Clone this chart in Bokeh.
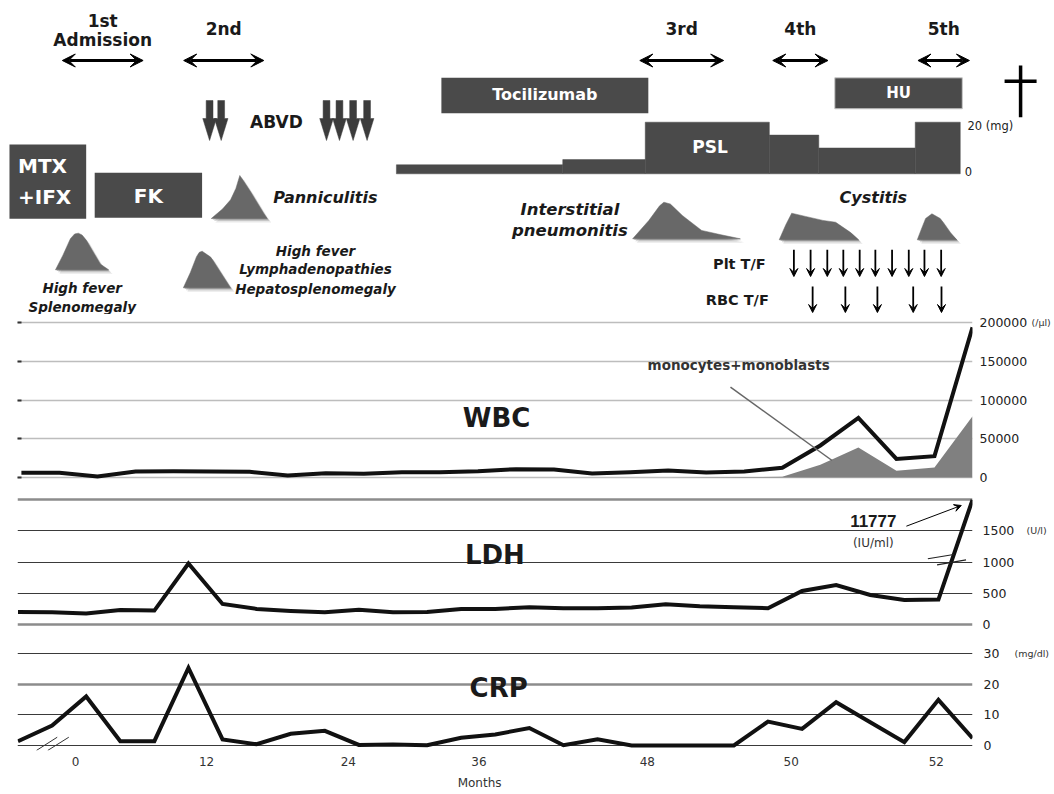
import numpy as np
from bokeh.plotting import figure
from bokeh.layouts import column
from bokeh.models import (Range1d, LinearAxis, FixedTicker, Grid, Arrow, VeeHead,
                          Label, NumeralTickFormatter, ColumnDataSource)
from bokeh.core.properties import value
from bokeh.embed import file_html
from bokeh.resources import INLINE

# ---------------- data ----------------
# WBC and monocytes+monoblasts (/ul), 26 samples
wbc = [6000, 6000, 1300, 7800, 8200, 7800, 7300, 2600, 5600, 4900,
       6900, 6900, 8200, 10800, 10300, 5200, 6900, 9000, 6500, 7800,
       12500, 41400, 77000, 24000, 27600, 194000]
mono = [0, 0, 0, 0, 0, 0, 0, 0, 0, 0,
        0, 0, 0, 0, 0, 0, 0, 0, 300, 500,
        1000, 16400, 38800, 8600, 12900, 79300]
# LDH (U/l) and CRP (mg/dl), 29 visits
ldh = [202, 197, 176, 234, 223, 979, 330, 250, 218, 197,
       235, 197, 202, 250, 250, 277, 261, 261, 271, 324,
       293, 277, 261, 537, 633, 473, 394, 399, 11777]
crp = [1.4, 6.5, 16.0, 1.4, 1.4, 25.3, 2.0, 0.4, 3.8, 4.8,
       0.2, 0.3, 0.1, 2.5, 3.6, 5.7, 0.1, 2.0, 0.0, 0.0,
       0.0, 0.0, 7.8, 5.4, 14.1, 7.6, 1.1, 14.9, 2.4]
LDH_BREAK = 2000          # LDH axis is broken above this value

month_labels = ["0", "12", "24", "36", "48", "50", "52"]
month_visit = [1.69, 5.53, 9.69, 13.52, 18.46, 22.68, 26.94]

wbc_ticks = [0, 50000, 100000, 150000, 200000]
ldh_ticks = [0, 500, 1000, 1500]
crp_ticks = [0, 10, 20, 30]

# clinical timeline (visit units)
stay_names = ["1st", "2nd", "3rd", "4th", "5th"]
stay_start = [1.30, 4.86, 18.24, 22.14, 26.40]
stay_end = [3.67, 7.21, 20.70, 23.76, 27.91]

drug_names = ["MTX+IFX", "FK", "Tocilizumab", "HU"]
drug_start = [-0.25, 2.25, 12.42, 23.96]
drug_end = [2.00, 5.40, 18.49, 27.70]

psl_start = [11.10, 15.98, 18.40, 22.04, 23.49, 26.32]
psl_end = [15.98, 18.40, 22.04, 23.49, 26.32, 27.64]
psl_dose = [3.5, 5.5, 20, 15, 10, 20]      # mg

abvd_cycles = [5.62, 5.96, 9.05, 9.43, 9.83, 10.24]
plt_tf = [22.76, 23.25, 23.74, 24.21, 24.69, 25.15, 25.64, 26.13, 26.59, 27.08]
rbc_tf = [23.31, 24.27, 25.21, 26.26, 27.09]
death_visit = 29.41

episode_names = ["fever1", "panniculitis", "fever2", "ip", "cystitis1", "cystitis2"]
episode_start = [1.10, 5.67, 4.85, 18.03, 22.33, 26.38]
episode_end = [2.66, 7.31, 6.23, 21.19, 24.66, 27.54]

# ---------------- layout / style ----------------
X0, PXU = 17.5, 34.09      # page x of visit 0, pixels per visit
W = 1054
BL, BR = 17, 82            # frame borders of the lab panels (px)
FONT = "DejaVu Sans"
INK = "#1a1a1a"
BOX = "#4a4a4a"
HUMP = "#686868"
TOP_H = 314


def px(d):
    return d / PXU


def ttext(p, x, y, s, size, style="bold", align="center", color=INK, font=FONT, **kw):
    p.text(x=[x], y=[y], text=[s], text_font=value(font), text_font_size=f"{size}px",
           text_font_style=style, text_align=align, text_baseline="middle",
           text_color=color, **kw)


def lab(p, x, y, s, size, style="bold", align="center", color=INK, font=FONT, **kw):
    p.add_layout(Label(x=x, y=y, text=s, text_font=font, text_font_size=f"{size}px",
                       text_font_style=style, text_align=align, text_baseline="middle",
                       text_color=color, **kw))


# ================= top timeline (full-width frame) =================
top = figure(width=W, height=TOP_H, x_range=Range1d(-X0 / PXU, (W - X0) / PXU),
             y_range=Range1d(TOP_H, 0),
             extra_y_ranges={"psl": Range1d(-(TOP_H - 173.3) / 2.58, 173.3 / 2.58)},
             toolbar_location=None, output_backend="svg", min_border=0,
             x_axis_location=None, y_axis_location=None, outline_line_color=None)
top.grid.visible = False

# admissions
src = ColumnDataSource(dict(x0=stay_start, x1=stay_end, y=[60] * len(stay_start)))
top.add_layout(Arrow(start=VeeHead(size=13, fill_color="black", line_color="black"),
                     end=VeeHead(size=13, fill_color="black", line_color="black"),
                     x_start="x0", y_start="y", x_end="x1", y_end="y", source=src,
                     line_width=3, line_color="black"))
for n, s, e in zip(stay_names, stay_start, stay_end):
    mid = (s + e) / 2
    if n == "1st":
        ttext(top, mid, 20.7, "1st", 17)
        ttext(top, mid, 39.3, "Admission", 17)
    else:
        ttext(top, mid, 28.3, n, 17)

# drugs
drug_rows = {"MTX+IFX": (144, 218.3), "FK": (172.3, 217.3),
             "Tocilizumab": (77.3, 112.7), "HU": (77.3, 108.3)}
for n, s, e in zip(drug_names, drug_start, drug_end):
    t, b = drug_rows[n]
    mid = (s + e) / 2
    top.quad(left=[s], right=[e], top=[t], bottom=[b], fill_color=BOX,
             line_color="#c8c8c8" if n == "HU" else None, line_width=1)
    if n == "MTX+IFX":
        ttext(top, s + px(8.5), 165, "MTX", 20, align="left", color="white")
        ttext(top, s + px(8.5), 196.7, "+IFX", 20, align="left", color="white")
    elif n == "FK":
        ttext(top, mid, 195, "FK", 20, color="white")
    elif n == "Tocilizumab":
        ttext(top, mid, 94.3, "Tocilizumab", 16, color="white")
    else:
        ttext(top, mid, 92.3, "HU", 15, color="white")

# PSL dose steps with their own mg scale
top.quad(left=psl_start, right=psl_end, bottom=0, top=psl_dose, y_range_name="psl",
         fill_color=BOX, line_color=BOX, line_width=0.5)
ttext(top, 20.30, 146.7, "PSL", 17, color="white")
ttext(top, 27.85, 20, "20 (mg)", 11.5, style="normal", align="left", color="#222",
      y_range_name="psl", y_offset=4)
ttext(top, 27.77, 0, "0", 11.5, style="normal", align="left", color="#222",
      y_range_name="psl", y_offset=-2)

# ABVD block arrows
sh, hd = px(3.4), px(6.8)
xs = [[c - sh, c + sh, c + sh, c + hd, c, c - hd, c - sh] for c in abvd_cycles]
ys = [[100, 100, 118, 118, 140, 118, 118] for _ in abvd_cycles]
top.patches(xs, ys, fill_color="#3c3c3c", line_color="#3c3c3c", line_width=0.5)
ttext(top, 7.58, 121.7, "ABVD", 17)

# clinical episodes (humps)
profiles = {
    "fever1": ([0, 0.14, 0.28, 0.36, 0.43, 0.50, 0.58, 0.70, 0.84, 1],
               [0, 0.40, 0.85, 0.98, 1.0, 0.95, 0.80, 0.50, 0.16, 0]),
    "panniculitis": ([0, 0.20, 0.345, 0.44, 0.51, 0.70, 0.94, 1],
                     [0, 0.22, 0.435, 0.70, 1.0, 0.62, 0.11, 0]),
    "fever2": ([0, 0.15, 0.28, 0.34, 0.40, 0.58, 0.80, 1],
               [0, 0.42, 0.85, 0.97, 1.0, 0.84, 0.40, 0]),
    "ip": ([0, 0.15, 0.25, 0.29, 0.35, 0.46, 0.64, 0.82, 1],
           [0, 0.50, 0.90, 1.0, 0.95, 0.64, 0.23, 0.11, 0]),
    "cystitis1": ([0, 0.08, 0.157, 0.33, 0.55, 0.71, 0.90, 1],
                  [0, 0.55, 1.0, 0.88, 0.73, 0.66, 0.27, 0]),
    "cystitis2": ([0, 0.10, 0.21, 0.37, 0.58, 0.83, 1],
                  [0, 0.40, 0.82, 1.0, 0.82, 0.28, 0]),
}
hump_base = {"fever1": 269.3, "panniculitis": 218, "fever2": 287.3,
             "ip": 238.3, "cystitis1": 239.3, "cystitis2": 239.3}
hump_h = {"fever1": 36.6, "panniculitis": 43, "fever2": 36.6,
          "ip": 36.6, "cystitis1": 26.6, "cystitis2": 26}
hx, hy = [], []
for n, s, e in zip(episode_names, episode_start, episode_end):
    fx, fh = profiles[n]
    hx.append([s + f * (e - s) for f in fx])
    hy.append([hump_base[n] - f * hump_h[n] for f in fh])
for d, a in [(4.0, 0.12), (2.5, 0.2), (1.2, 0.3)]:
    top.patches([[x + px(d) for x in xx] for xx in hx], [[y + d for y in yy] for yy in hy],
                fill_color="#444444", fill_alpha=a, line_color=None)
top.patches(hx, hy, fill_color=HUMP, line_color=HUMP, line_width=0.5)

ttext(top, 1.883, 287.5, "High fever", 13.5, style="bold italic")
ttext(top, 1.883, 306.5, "Splenomegaly", 13.5, style="bold italic")
ttext(top, 7.486, 196.7, "Panniculitis", 16, style="bold italic", align="left")
ttext(top, 8.727, 250, "High fever", 13.5, style="bold italic")
ttext(top, 8.727, 268.3, "Lymphadenopathies", 13.5, style="bold italic")
ttext(top, 8.727, 288.3, "Hepatosplenomegaly", 13.5, style="bold italic")
ttext(top, 16.19, 209.3, "Interstitial", 16.5, style="bold italic")
ttext(top, 16.19, 230, "pneumonitis", 16.5, style="bold italic")
ttext(top, 25.09, 196.7, "Cystitis", 16, style="bold italic")

# transfusions
ttext(top, 21.16, 263.3, "Plt T/F", 14.5)
ttext(top, 21.10, 299, "RBC T/F", 14.5)
psrc = ColumnDataSource(dict(x=plt_tf, y0=[249.3] * len(plt_tf), y1=[276] * len(plt_tf)))
top.add_layout(Arrow(end=VeeHead(size=8, fill_color="black", line_color="black"),
                     x_start="x", y_start="y0", x_end="x", y_end="y1", source=psrc,
                     line_width=1.8, line_color="black"))
rsrc = ColumnDataSource(dict(x=rbc_tf, y0=[286] * len(rbc_tf), y1=[312] * len(rbc_tf)))
top.add_layout(Arrow(end=VeeHead(size=8, fill_color="black", line_color="black"),
                     x_start="x", y_start="y0", x_end="x", y_end="y1", source=rsrc,
                     line_width=1.8, line_color="black"))

# death
top.segment(x0=[death_visit, death_visit - px(16)], y0=[65, 80.7],
            x1=[death_visit, death_visit + px(16)], y1=[116.7, 80.7],
            line_width=3.5, line_color="black")

# ================= lab panels =================
xr = Range1d((BL - X0) / PXU, (W - BR - X0) / PXU)


def base_fig(h, yr, mbb=0):
    p = figure(width=W, height=h, x_range=xr, y_range=yr, toolbar_location=None,
               output_backend="svg", min_border=0, min_border_left=BL,
               min_border_right=BR, min_border_top=0, min_border_bottom=mbb,
               x_axis_location=None, y_axis_location=None, outline_line_color=None)
    p.grid.visible = False
    return p


def text_axis(p, side, ticks, size, standoff, color="#222", overrides=None, fmt=True):
    kw = dict(ticker=FixedTicker(ticks=ticks, minor_ticks=[]),
              axis_line_color=None, major_tick_line_color=None,
              minor_tick_line_color=None, major_tick_in=0, major_tick_out=0,
              minor_tick_in=0, minor_tick_out=0, major_label_standoff=standoff,
              major_label_text_font=FONT, major_label_text_font_size=f"{size}px",
              major_label_text_color=color)
    if overrides:
        kw["major_label_overrides"] = overrides
    if fmt:
        kw["formatter"] = NumeralTickFormatter(format="0")
    p.add_layout(LinearAxis(**kw), side)


def hgrid(p, ticks, color, width):
    p.add_layout(Grid(dimension=1, ticker=FixedTicker(ticks=ticks, minor_ticks=[]),
                      grid_line_color=color, grid_line_width=width))


# ---- WBC ----
k = 154.7 / 200000
pw = base_fig(490 - TOP_H, Range1d(-(490 - 477) / k, (477 - TOP_H) / k))
hgrid(pw, wbc_ticks, "#bdbdbd", 1.5)
text_axis(pw, "right", wbc_ticks, 12.5, 7)
text_axis(pw, "right", [200000], 9.5, 1, color="#333", overrides={200000: "(/\u03bcl)"}, fmt=False)
pw.add_layout(LinearAxis(ticker=FixedTicker(ticks=wbc_ticks, minor_ticks=[]),
                         major_label_overrides={t: "" for t in wbc_ticks},
                         axis_line_color=None, major_tick_in=4, major_tick_out=0,
                         minor_tick_in=0, minor_tick_out=0,
                         major_tick_line_color="#333", major_tick_line_width=2,
                         minor_tick_line_color=None, major_label_standoff=0), "left")
wbc_x = np.linspace(0.1, 28, len(wbc))
pw.varea(x=wbc_x, y1=np.zeros(len(mono)), y2=mono, fill_color="#808080")
pw.line(wbc_x, wbc, line_width=4, line_color="#111111", line_join="miter")
lab(pw, 14.04, 76665, "WBC", 26)
lab(pw, 21.14, 144800, "monocytes+monoblasts", 13.5, color="#333")
pw.segment(x0=[20.9], y0=[116740], x1=[23.88], y1=[21980], line_color="#666", line_width=1.5)

# ---- LDH ----
k = 124.7 / 2000
pl = base_fig(150, Range1d(-(640 - 624) / k, (624 - 490) / k))
hgrid(pl, [500, 1000, 1500], "#3a3a3a", 1.2)
hgrid(pl, [0, LDH_BREAK], "#8c8c8c", 2.5)
text_axis(pl, "right", ldh_ticks, 12.5, 10)
text_axis(pl, "right", [1500], 9.5, 9, color="#333", overrides={1500: "(U/l)"}, fmt=False)
pl.line(np.arange(len(ldh)), np.minimum(ldh, LDH_BREAK), line_width=4,
        line_color="#111111", line_join="miter")
lab(pl, 13.99, 1118, "LDH", 26)
lab(pl, 25.09, 1657, "11777", 17, font="Liberation Sans")
lab(pl, 25.09, 1310, "(IU/ml)", 12, style="normal", color="#333")
pl.add_layout(Arrow(end=VeeHead(size=7, fill_color="black", line_color="black"),
                    x_start=26.06, y_start=1577, x_end=27.67, y_end=1909,
                    line_width=1, line_color="black"))
pl.segment(x0=[26.69, 26.96], y0=[1054, 957.5], x1=[27.45, 27.81], y1=[1123, 1037.7],
           line_color="#222", line_width=1.2)

# ---- CRP ----
k = 92 / 30
CRP_BOTTOM = 750
pc = base_fig(794 - 640, Range1d(-(CRP_BOTTOM - 745) / k, (745 - 640) / k),
              mbb=794 - CRP_BOTTOM)
hgrid(pc, [0, 10, 30], "#3a3a3a", 1.2)
hgrid(pc, [20], "#8c8c8c", 2.5)
text_axis(pc, "right", crp_ticks, 12.5, 11)
text_axis(pc, "right", [30], 9.5, 12, color="#333", overrides={30: "(mg/dl)"}, fmt=False)
pc.line(np.arange(len(crp)), crp, line_width=4, line_color="#111111", line_join="miter")
lab(pc, 14.1, 18.7, "CRP", 26)
pc.segment(x0=[0.543, 0.874], y0=[-1.6, -1.6], x1=[1.15, 1.49], y1=[2.7, 2.7],
           line_color="#333", line_width=1)
text_axis(pc, "below", month_visit, 12, 6, color="#333",
          overrides={v: l for v, l in zip(month_visit, month_labels)}, fmt=False)
text_axis(pc, "below", [13.54], 12, 7, color="#333", overrides={13.54: "Months"}, fmt=False)

panels = column(pw, pl, pc, spacing=0)
open("out.html", "w").write(file_html([top, panels], INLINE))
